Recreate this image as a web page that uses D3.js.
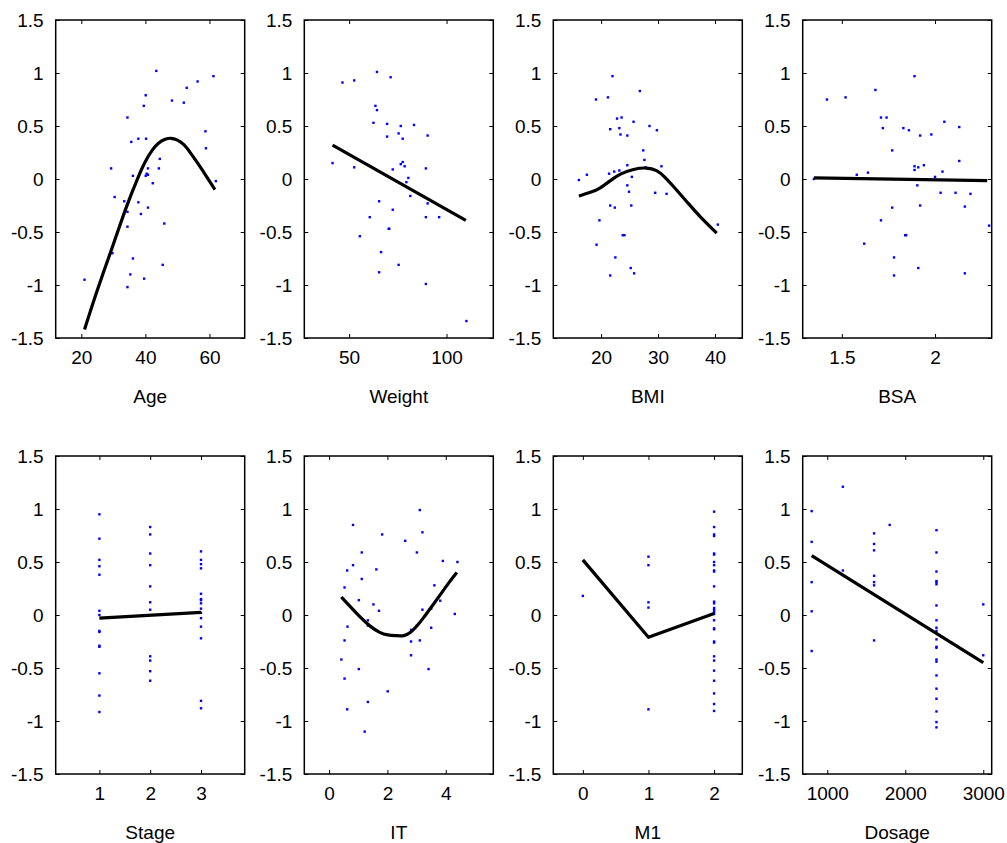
<!DOCTYPE html>
<html>
<head>
<meta charset="utf-8">
<script src="https://cdn.jsdelivr.net/npm/d3@7"></script>
<style>
  body { margin: 0; background: #fff; }
  svg text { font-family: "Liberation Sans", Arial, Helvetica, sans-serif; font-size: 19px; fill: #000; }
</style>
</head>
<body>
<div id="my_dataviz"></div>
<script>
// y ticks shared by every panel
var yTicks = [-1.5, -1, -0.5, 0, 0.5, 1, 1.5];

// panel names, x domains and x ticks
var names = ["Age", "Weight", "BMI", "BSA", "Stage", "IT", "M1", "Dosage"];
var xDomains = [[12, 71], [27, 124], [11.6, 44.8], [1.29, 2.304], [0.14, 3.86], [-0.85, 5.63], [-0.45, 2.43], [685, 3108]];
var xTicks = [[20, 40, 60], [50, 100], [20, 30, 40], [1.5, 2], [1, 2, 3], [0, 2, 4], [0, 1, 2], [1000, 2000, 3000]];

// scatter points [x, y]
var agePts = [[21.0,-0.95],[29.3,0.10],[30.4,-0.17],[29.7,-0.70],[33.4,-0.21],[34.4,0.58],[34.4,-0.31],[34.4,-0.45],
  [34.4,-1.02],[35.3,-0.90],[35.6,0.35],[36.1,0.03],[36.1,-0.75],[37.8,0.38],[37.8,-0.22],[38.6,-0.33],[39.5,0.69],
  [39.6,-0.94],[40.1,0.79],[40.2,0.38],[40.1,0.03],[40.4,0.05],[40.8,0.10],[40.8,0.04],[40.8,-0.27],[42.3,-0.04],
  [43.4,1.02],[44.2,0.10],[44.5,0.19],[45.4,-0.81],[45.9,-0.42],[48.3,0.74],[52.0,0.72],[52.9,0.86],[56.3,0.92],
  [58.75,0.45],[58.9,0.29],[61.25,0.97],[62.0,-0.02]];
var weightPts = [[41.5,0.15],[46.6,0.91],[52.6,0.93],[52.6,0.11],[55.5,-0.54],[60.6,-0.36],[62.5,0.53],[63.5,0.69],
  [64.3,0.65],[64.3,1.01],[65.4,-0.21],[65.4,-0.88],[66.4,-0.69],[69.5,0.52],[69.5,0.40],[70.3,-0.47],[70.6,-0.47],
  [71.3,0.96],[72.4,0.09],[72.4,-0.29],[75.4,0.43],[75.4,-0.81],[76.5,0.50],[76.5,0.14],[77.5,0.38],[77.5,0.16],
  [78.5,0.12],[79.4,-0.03],[80.4,0.01],[81.4,-0.16],[83.3,0.51],[89.4,0.10],[89.4,-0.36],[89.4,-0.99],[90.3,0.41],
  [90.3,-0.23],[96.2,-0.36],[110.2,-1.34]];
var bmiPts = [[16.1,-0.01],[17.5,0.04],[19.1,0.75],[19.7,-0.39],[19.2,-0.62],[21.2,0.77],[21.4,0.05],[21.6,0.47],
  [21.6,-0.25],[21.6,-0.91],[22.0,0.97],[22.3,0.07],[22.4,-0.27],[22.5,-0.74],[22.8,0.57],[23.2,0.08],[23.2,0.48],
  [23.4,0.42],[23.6,0.58],[23.8,-0.53],[24.1,-0.53],[24.6,0.41],[24.6,0.13],[24.6,-0.06],[24.9,-0.12],[25.2,-0.84],
  [25.8,-0.89],[25.3,-0.25],[25.4,0.02],[25.7,0.54],[26.8,0.83],[27.4,0.27],[27.6,0.18],[27.8,0.11],[28.5,0.50],
  [29.5,-0.13],[29.8,0.46],[30.6,0.12],[31.5,-0.14],[40.5,-0.43]];
var bsaPts = [[1.35,0.00],[1.42,0.75],[1.52,0.77],[1.58,0.04],[1.62,-0.61],[1.64,0.06],[1.68,0.84],[1.71,0.58],
  [1.71,-0.39],[1.72,0.48],[1.74,0.58],[1.77,0.27],[1.77,-0.27],[1.78,-0.74],[1.78,-0.91],[1.83,0.48],[1.84,-0.53],
  [1.845,-0.53],[1.86,0.46],[1.89,0.97],[1.89,0.12],[1.89,0.085],[1.905,-0.06],[1.91,0.11],[1.91,-0.84],[1.92,-0.25],
  [1.92,0.41],[1.94,0.13],[1.98,0.42],[2.00,0.02],[2.03,-0.13],[2.04,0.07],[2.05,0.54],[2.11,-0.13],[2.13,0.49],
  [2.13,0.17],[2.16,-0.89],[2.16,-0.26],[2.19,-0.14],[2.29,-0.44]];
var stagePts = [[1,0.95],[1,0.72],[1,0.52],[1,0.46],[1,0.38],[1,0.04],[1,0.0],[1,-0.15],[1,-0.16],[1,-0.29],[1,-0.30],
  [1,-0.55],[1,-0.76],[1,-0.915],
  [2,0.83],[2,0.76],[2,0.58],[2,0.47],[2,0.27],[2,0.12],[2,0.05],[2,-0.39],[2,-0.43],[2,-0.53],[2,-0.62],
  [3,0.60],[3,0.52],[3,0.48],[3,0.44],[3,0.20],[3,0.15],[3,0.14],[3,0.11],[3,0.06],[3,0.02],[3,-0.03],[3,-0.11],
  [3,-0.22],[3,-0.81],[3,-0.88]];
var itPts = [[0.42,-0.42],[0.53,0.26],[0.53,-0.24],[0.53,-0.60],[0.62,0.42],[0.63,-0.11],[0.62,-0.89],[0.82,0.85],
  [0.82,0.47],[1.02,0.14],[1.02,-0.51],[1.12,0.59],[1.12,0.34],[1.22,-1.10],[1.33,-0.05],[1.33,-0.10],[1.33,-0.82],
  [1.52,0.10],[1.62,0.43],[1.71,0.04],[1.82,0.76],[2.01,-0.72],[2.61,0.70],[2.81,-0.14],[2.81,-0.25],[2.81,-0.38],
  [3.01,0.59],[3.01,-0.10],[3.11,0.99],[3.11,-0.24],[3.20,0.78],[3.20,0.05],[3.41,-0.51],[3.50,0.06],[3.50,-0.12],
  [3.61,0.28],[3.81,0.135],[3.90,0.51],[4.31,0.01],[4.40,0.50]];
var m1Pts = [[0,0.18],
  [1,0.55],[1,0.47],[1,0.12],[1,0.07],[1,-0.89],
  [2,0.975],[2,0.83],[2,0.76],[2,0.745],[2,0.58],[2,0.57],[2,0.50],[2,0.47],[2,0.42],[2,0.41],[2,0.27],[2,0.126],
  [2,0.11],[2,0.066],[2,0.047],[2,0.03],[2,0.01],[2,-0.05],[2,-0.126],[2,-0.135],[2,-0.25],[2,-0.26],[2,-0.39],
  [2,-0.43],[2,-0.525],[2,-0.62],[2,-0.74],[2,-0.84],[2,-0.905]];
var dosagePts = [[800,0.98],[800,0.69],[800,0.31],[800,0.035],[800,-0.34],
  [1200,1.21],[1200,0.42],
  [1600,0.77],[1600,0.67],[1600,0.61],[1600,0.37],[1600,0.31],[1600,0.28],[1600,-0.24],
  [1800,0.85],
  [2400,0.80],[2400,0.59],[2400,0.41],[2400,0.32],[2400,0.31],[2400,0.29],[2400,0.09],[2400,-0.05],[2400,-0.12],
  [2400,-0.15],[2400,-0.23],[2400,-0.30],[2400,-0.31],[2400,-0.42],[2400,-0.44],[2400,-0.57],[2400,-0.695],
  [2400,-0.79],[2400,-0.91],[2400,-1.01],[2400,-1.06],
  [3000,0.10],[3000,-0.38]];

// fitted curves [x, y]
var ageFit = [[21,-1.42],[25,-1.04],[30,-0.62],[34,-0.26],[38,0.04],[40,0.17],[42,0.27],[44,0.34],[46,0.375],
  [48,0.39],[50,0.37],[52,0.33],[54,0.25],[56,0.165],[58,0.075],[60,-0.02],[61.7,-0.10]];
var weightFit = [[41.5,0.32],[109.9,-0.39]];
var bmiFit = [[16.1,-0.16],[18,-0.13],[19.8,-0.09],[21.5,-0.02],[23.3,0.05],[25.7,0.095],[28.0,0.11],[29.8,0.085],
  [31.2,0.02],[32.7,-0.07],[35.0,-0.21],[37.4,-0.36],[40.3,-0.51]];
var bsaFit = [[1.35,0.01],[2.28,-0.015]];
var stageFit = [[1,-0.03],[3,0.025]];
var itFit = [[0.42,0.17],[0.72,0.08],[1.06,-0.02],[1.41,-0.11],[1.75,-0.17],[2.0,-0.19],[2.32,-0.195],[2.57,-0.20],
  [2.78,-0.17],[3.0,-0.11],[3.23,-0.03],[3.52,0.08],[3.81,0.19],[4.09,0.30],[4.38,0.40]];
var m1Fit = [[0,0.52],[1,-0.21],[2,0.015]];
var dosageFit = [[800,0.56],[3000,-0.45]];

var points = [agePts, weightPts, bmiPts, bsaPts, stagePts, itPts, m1Pts, dosagePts];
var fits = [ageFit, weightFit, bmiFit, bsaFit, stageFit, itFit, m1Fit, dosageFit];
var curved = [true, false, true, false, false, true, false, false];

// layout
var W = 1007, H = 843;
var panelW = 189, panelH = 318;
var lefts = [55.7, 304.3, 553.3, 802.7];
var tops = [20, 456];

var svg = d3.select("#my_dataviz")
  .append("svg")
  .attr("width", W)
  .attr("height", H);

names.forEach(function(name, i) {
  var col = i % 4, row = Math.floor(i / 4);
  var g = svg.append("g")
    .attr("transform", "translate(" + lefts[col] + "," + tops[row] + ")");

  var x = d3.scaleLinear().domain(xDomains[i]).range([0, panelW]);
  var y = d3.scaleLinear().domain([-1.5, 1.5]).range([panelH, 0]);

  // bottom axis with labels, ticks pointing inward
  var bx = g.append("g")
    .attr("transform", "translate(0," + panelH + ")")
    .call(d3.axisBottom(x).tickValues(xTicks[i]).tickSizeInner(-4).tickSizeOuter(0)
      .tickPadding(12).tickFormat(function(d) { return String(d); }));
  // left axis with labels
  var ly = g.append("g")
    .call(d3.axisLeft(y).tickValues(yTicks).tickSizeInner(-4).tickSizeOuter(0)
      .tickPadding(12).tickFormat(function(d) { return String(d); }));
  // top and right ticks only
  var tx = g.append("g")
    .call(d3.axisTop(x).tickValues(xTicks[i]).tickSizeInner(-4).tickSizeOuter(0).tickFormat(""));
  var ry = g.append("g")
    .attr("transform", "translate(" + panelW + ",0)")
    .call(d3.axisRight(y).tickValues(yTicks).tickSizeInner(-4).tickSizeOuter(0).tickFormat(""));

  [bx, ly, tx, ry].forEach(function(a) {
    a.select(".domain").remove();
    a.selectAll("line").attr("stroke", "#000").attr("stroke-width", 1);
    a.selectAll("text").attr("font-size", null).attr("font-family", null).attr("fill", "#000");
  });
  bx.selectAll("text").attr("dy", "0.75em");

  // points
  g.append("g")
    .selectAll("rect")
    .data(points[i])
    .enter()
    .append("rect")
      .attr("x", function(d) { return x(d[0]) - 1.2; })
      .attr("y", function(d) { return y(d[1]) - 1.2; })
      .attr("width", 2.4)
      .attr("height", 2.4)
      .attr("fill", "#0000ff");

  // fitted line
  g.append("path")
    .datum(fits[i])
    .attr("fill", "none")
    .attr("stroke", "#000")
    .attr("stroke-width", 3.2)
    .attr("stroke-linejoin", "round")
    .attr("d", d3.line()
      .curve(curved[i] ? d3.curveBasis : d3.curveLinear)
      .x(function(d) { return x(d[0]); })
      .y(function(d) { return y(d[1]); })
    );

  // frame
  g.append("rect")
    .attr("width", panelW)
    .attr("height", panelH)
    .attr("fill", "none")
    .attr("stroke", "#000")
    .attr("stroke-width", 1.5);

  // axis title
  g.append("text")
    .attr("x", panelW / 2)
    .attr("y", panelH + 65)
    .style("text-anchor", "middle")
    .text(name);
});
</script>
</body>
</html>
